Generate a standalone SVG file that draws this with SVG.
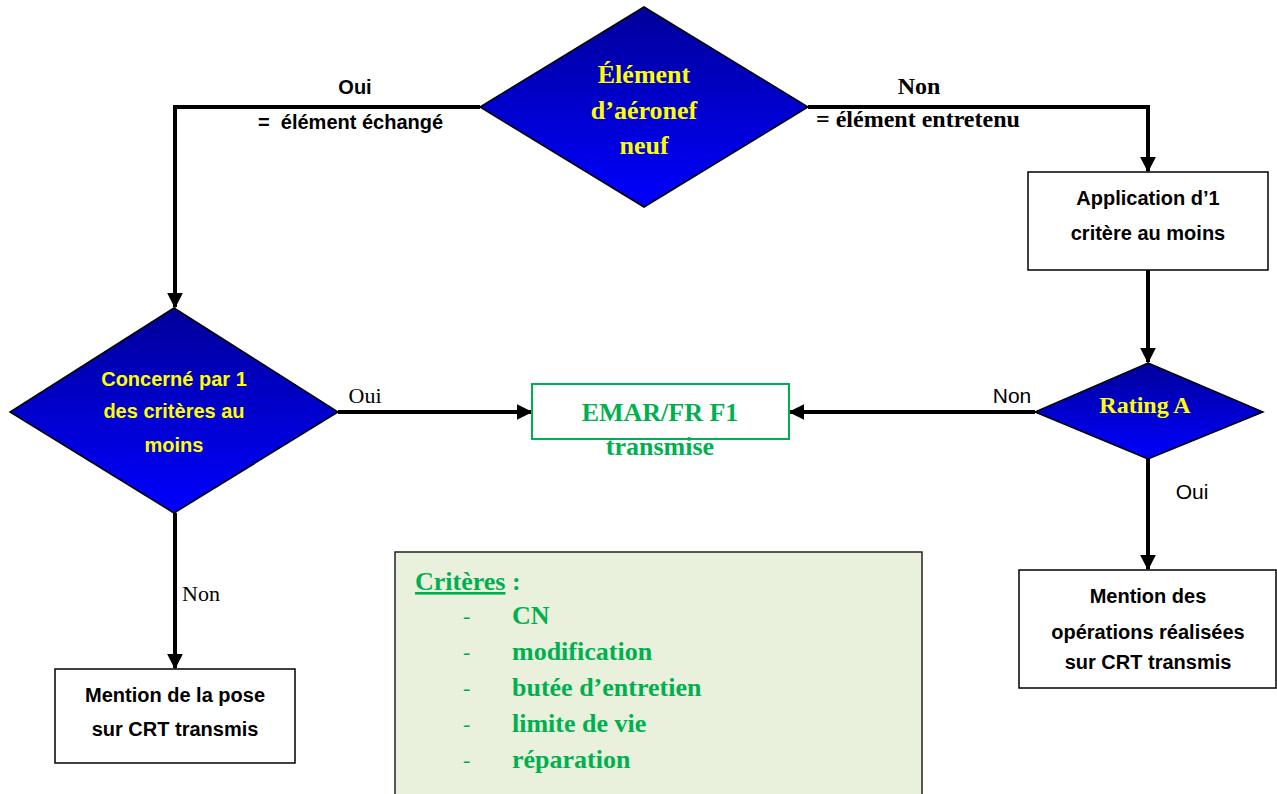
<svg xmlns="http://www.w3.org/2000/svg" width="1277" height="794" viewBox="0 0 1277 794">
<defs>
<linearGradient id="blueGrad" x1="0" y1="0" x2="0" y2="1">
<stop offset="0" stop-color="#00009a"/>
<stop offset="1" stop-color="#0000ff"/>
</linearGradient>
<marker id="arr" viewBox="0 0 10 10" refX="9" refY="5" markerWidth="4" markerHeight="4" markerUnits="strokeWidth" orient="auto">
<path d="M0,0 L10,5 L0,10 z" fill="#000"/>
</marker>
</defs>
<style>
.dia{fill:url(#blueGrad);stroke:#000;stroke-width:1.5}
.box{fill:#fff;stroke:#000;stroke-width:1.5}
.conn{fill:none;stroke:#000;stroke-width:4;marker-end:url(#arr)}
.ytimes{font-family:"Liberation Serif",serif;font-weight:bold;fill:#ffff00;text-anchor:middle}
.ysans{font-family:"Liberation Sans",sans-serif;font-weight:bold;fill:#ffff00;text-anchor:middle;font-size:20px}
.bsans{font-family:"Liberation Sans",sans-serif;font-weight:bold;fill:#000;text-anchor:middle;font-size:20px}
.bsansl{font-family:"Liberation Sans",sans-serif;font-weight:bold;fill:#000;font-size:20px}
.lbl{font-family:"Liberation Sans",sans-serif;font-size:21px;fill:#000}
.lblt{font-family:"Liberation Serif",serif;font-size:22px;fill:#000}
.lbltb{font-family:"Liberation Serif",serif;font-size:24px;font-weight:bold;fill:#000}
.gt{font-family:"Liberation Serif",serif;font-weight:bold;fill:#00b050;font-size:26px}
.dash{font-family:"Liberation Serif",serif;fill:#00b050;font-size:22px}
</style>
<rect width="1277" height="794" fill="#fff"/>
<g id="connectors">
<polyline class="conn" points="480,107 175,107 175,307"/>
<polyline class="conn" points="808,107 1148,107 1148,171"/>
<line class="conn" x1="1148" y1="270" x2="1148" y2="362"/>
<line class="conn" x1="1035" y1="412" x2="790" y2="412"/>
<line class="conn" x1="1148" y1="459" x2="1148" y2="569"/>
<line class="conn" x1="338" y1="412" x2="531" y2="412"/>
<line class="conn" x1="175" y1="513" x2="175" y2="668"/>
<text class="bsans" x="355" y="94">Oui</text>
<text class="bsansl" x="258" y="129">=&#160; élément échangé</text>
<text class="lbltb" x="919" y="94" text-anchor="middle">Non</text>
<text class="lbltb" x="816" y="127">= élément entretenu</text>
<text class="lbl" x="1012" y="403" text-anchor="middle">Non</text>
<text class="lbl" x="1192" y="499" text-anchor="middle">Oui</text>
<text class="lblt" x="365" y="403" text-anchor="middle">Oui</text>
<text class="lblt" x="201" y="601" text-anchor="middle">Non</text>
</g>
<g id="n-element">
<polygon class="dia" points="644,7 808,107 644,207 480,107"/>
<text class="ytimes" font-size="26" x="644" y="83">Élément</text>
<text class="ytimes" font-size="26" x="644" y="119">d’aéronef</text>
<text class="ytimes" font-size="26" x="644" y="154">neuf</text>
</g>
<g id="n-application">
<rect class="box" x="1028" y="172" width="240" height="98"/>
<text class="bsans" x="1148" y="205">Application d’1</text>
<text class="bsans" x="1148" y="240">critère au moins</text>
</g>
<g id="n-rating">
<polygon class="dia" points="1148,363 1263,412 1148,459 1035,412"/>
<text class="ytimes" font-size="24" x="1145" y="413">Rating A</text>
</g>
<g id="n-mention-ops">
<rect class="box" x="1019" y="570" width="257" height="118"/>
<text class="bsans" x="1148" y="603">Mention des</text>
<text class="bsans" x="1148" y="639">opérations réalisées</text>
<text class="bsans" x="1148" y="669">sur CRT transmis</text>
</g>
<g id="n-concerne">
<polygon class="dia" points="174,308 338,412 174,513 10,412"/>
<text class="ysans" x="174" y="386">Concerné par 1</text>
<text class="ysans" x="174" y="418">des critères au</text>
<text class="ysans" x="174" y="452">moins</text>
</g>
<g id="n-emar">
<rect x="532" y="384" width="257" height="55" fill="#fff" stroke="#00b050" stroke-width="2"/>
<text class="gt" x="660" y="421" text-anchor="middle">EMAR/FR F1</text>
<text class="gt" x="660" y="455" text-anchor="middle">transmise</text>
</g>
<g id="n-mention-pose">
<rect class="box" x="55" y="669" width="240" height="94"/>
<text class="bsans" x="175" y="702">Mention de la pose</text>
<text class="bsans" x="175" y="736">sur CRT transmis</text>
</g>
<g id="n-criteres">
<rect x="395" y="552" width="527" height="250" fill="#e9f0dc" stroke="#222" stroke-width="1.5"/>
<text class="gt" x="415" y="590"><tspan text-decoration="underline">Critères</tspan> :</text>
<text class="dash" x="463" y="623">-</text>
<text class="gt" x="512" y="624">CN</text>
<text class="dash" x="463" y="659">-</text>
<text class="gt" x="512" y="660">modification</text>
<text class="dash" x="463" y="695">-</text>
<text class="gt" x="512" y="696">butée d’entretien</text>
<text class="dash" x="463" y="731">-</text>
<text class="gt" x="512" y="732">limite de vie</text>
<text class="dash" x="463" y="767">-</text>
<text class="gt" x="512" y="768">réparation</text>
</g>
</svg>
